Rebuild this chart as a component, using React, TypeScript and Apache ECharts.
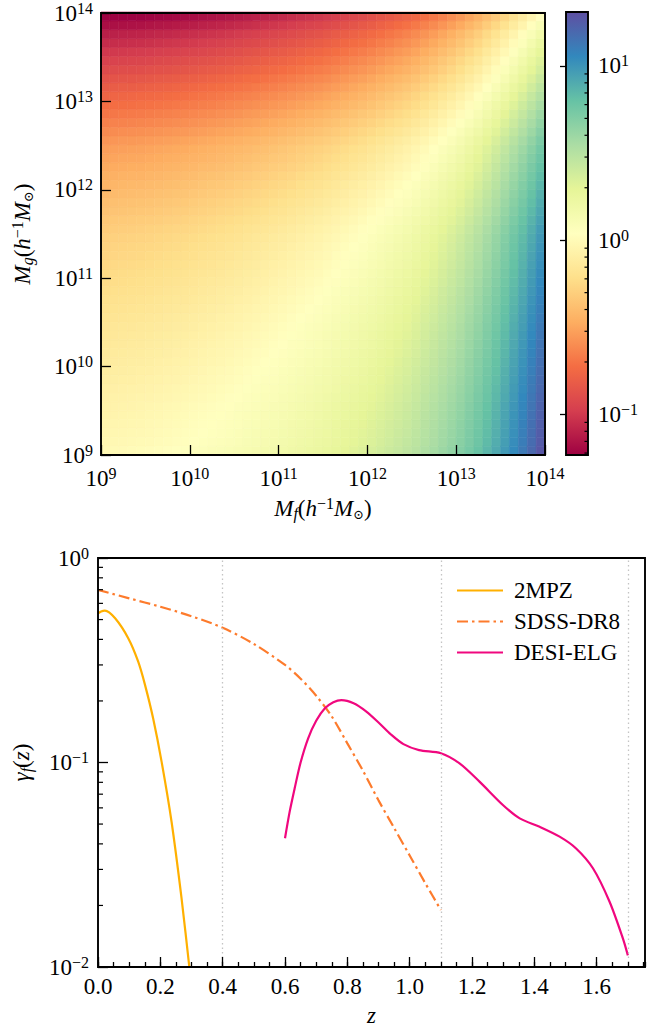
import React, { useEffect, useRef } from "react";
import * as echarts from "echarts";

const FONT = "Liberation Serif";

// ---------------- top panel: heat map ----------------
// log10(M) at the centres of the map's cells (both axes)
const massCellCentres = [
  9.05, 9.15, 9.25, 9.35, 9.45, 9.55, 9.65, 9.75, 9.85, 9.95,
  10.05, 10.15, 10.25, 10.35, 10.45, 10.55, 10.65, 10.75, 10.85, 10.95,
  11.05, 11.15, 11.25, 11.35, 11.45, 11.55, 11.65, 11.75, 11.85, 11.95,
  12.05, 12.15, 12.25, 12.35, 12.45, 12.55, 12.65, 12.75, 12.85, 12.95,
  13.05, 13.15, 13.25, 13.35, 13.45, 13.55, 13.65, 13.75, 13.85, 13.95,
];
// value read along the bottom row (M_g = 1e9) as a function of M_f
const bottomRowValues = [
  0.978, 0.989, 1.001, 1.013, 1.024, 1.04, 1.058, 1.077, 1.096, 1.115,
  1.138, 1.166, 1.193, 1.221, 1.25, 1.284, 1.322, 1.361, 1.402, 1.443,
  1.49, 1.543, 1.599, 1.656, 1.715, 1.787, 1.873, 1.963, 2.057, 2.156,
  2.272, 2.409, 2.554, 2.708, 2.871, 3.081, 3.344, 3.629, 3.985, 4.377,
  4.864, 5.469, 6.148, 7.073, 8.141, 9.481, 11.17, 13.16, 15.69, 18.71,
];
// value read along the left column (M_f = 1e9) as a function of M_g
const leftColumnValues = [
  0.978, 0.942, 0.922, 0.903, 0.884, 0.864, 0.841, 0.82, 0.799, 0.779,
  0.759, 0.74, 0.721, 0.703, 0.685, 0.666, 0.646, 0.626, 0.608, 0.589,
  0.571, 0.553, 0.537, 0.52, 0.504, 0.483, 0.458, 0.434, 0.412, 0.391,
  0.37, 0.349, 0.329, 0.31, 0.293, 0.271, 0.247, 0.225, 0.205, 0.186,
  0.169, 0.152, 0.137, 0.123, 0.111, 0.0991, 0.0881, 0.0783, 0.0665, 0.0565,
];
const cornerValue = 0.978; // value of the bottom-left cell
const massRange = [1e9, 1e14];
const colorbarRange = [0.0585, 20.4];
const colorbarMinorTicks = [
  0.06, 0.07, 0.08, 0.09, 0.2, 0.3, 0.4, 0.5, 0.6, 0.7, 0.8, 0.9,
  2, 3, 4, 5, 6, 7, 8, 9,
];
const spectral = [
  "#9e0142", "#d53e4f", "#f46d43", "#fdae61", "#fee08b", "#ffffbf",
  "#e6f598", "#abdda4", "#66c2a5", "#3288bd", "#5e4fa2",
];

// ---------------- bottom panel: gamma_f(z) ----------------
const zRange = [0, 1.755];
const zGuides = [0.4, 1.1, 1.7];
const gammaRange = [0.01, 1];
const gammaMinorTicks = [
  0.02, 0.03, 0.04, 0.05, 0.06, 0.07, 0.08, 0.09,
  0.2, 0.3, 0.4, 0.5, 0.6, 0.7, 0.8, 0.9,
];
const mpzZ = [0.0, 0.01, 0.022, 0.055, 0.097, 0.129, 0.151, 0.177, 0.204, 0.236, 0.268, 0.293, 0.3];
const mpzGamma = [0.536, 0.548, 0.553, 0.507, 0.405, 0.311, 0.239, 0.164, 0.101, 0.0513, 0.0217, 0.01, 0.0079];
const sdssZ = [0.0, 0.1, 0.2, 0.3, 0.4, 0.5, 0.6, 0.65, 0.7, 0.75, 0.8, 0.85, 0.9, 0.95, 1.0, 1.05, 1.1];
const sdssGamma = [0.698, 0.635, 0.578, 0.519, 0.456, 0.38, 0.3, 0.257, 0.212, 0.168, 0.124, 0.0912, 0.0653, 0.0479, 0.0351, 0.0257, 0.019];
const desiZ = [0.6, 0.615, 0.631, 0.65, 0.674, 0.7, 0.728, 0.755, 0.781, 0.82, 0.86, 0.9, 0.94, 0.98, 1.03, 1.1, 1.16, 1.224, 1.299, 1.353, 1.417, 1.481, 1.534, 1.588, 1.641, 1.684, 1.7];
const desiGamma = [0.0426, 0.0575, 0.0748, 0.1, 0.131, 0.16, 0.184, 0.197, 0.202, 0.195, 0.178, 0.157, 0.137, 0.123, 0.115, 0.111, 0.099, 0.0806, 0.062, 0.0533, 0.0485, 0.0434, 0.038, 0.0304, 0.0209, 0.0138, 0.0114];

const seriesNames = ["2MPZ", "SDSS-DR8", "DESI-ELG"];
const seriesColors = ["#ffb000", "#fd7b2c", "#f0077e"];

// ---------------- helpers ----------------
const tickRich = {
  b: { fontFamily: FONT, fontSize: 23, lineHeight: 26, color: "#000" },
  s: { fontFamily: FONT, fontSize: 16, lineHeight: 16, verticalAlign: "top", color: "#000" },
};
const nameRich = {
  i: { fontFamily: FONT, fontStyle: "italic", fontSize: 23, lineHeight: 26, color: "#000" },
  n: { fontFamily: FONT, fontSize: 23, lineHeight: 26, color: "#000" },
  sub: { fontFamily: FONT, fontStyle: "italic", fontSize: 16, lineHeight: 14, verticalAlign: "bottom", color: "#000" },
  subn: { fontFamily: "DejaVu Serif", fontSize: 13, lineHeight: 14, verticalAlign: "bottom", color: "#000" },
  sup: { fontFamily: FONT, fontSize: 16, lineHeight: 16, verticalAlign: "top", color: "#000" },
};
const pow10Label = (v: number) => {
  const e = Math.log10(v);
  const r = Math.round(e);
  if (Math.abs(e - r) > 1e-6) return "";
  return `{b|10}{s|${r < 0 ? "\u2212" + -r : r}}`;
};
const tickLine = { color: "#000", width: 1.3 };
const frame = { show: true, borderColor: "#000", borderWidth: 1.9, backgroundColor: "transparent", z: 10 };

function minorTickSeries(xi: number, yi: number, xEdge: number, ticks: number[], len: number) {
  return {
    type: "custom",
    xAxisIndex: xi,
    yAxisIndex: yi,
    silent: true,
    clip: false,
    z: 11,
    data: ticks.map((t) => [xEdge, t]),
    renderItem: (_p: any, api: any) => {
      const pt = api.coord([api.value(0), api.value(1)]);
      return {
        type: "line",
        shape: { x1: pt[0], y1: pt[1], x2: pt[0] + len, y2: pt[1] },
        style: { stroke: "#000", lineWidth: 1.2 },
      };
    },
  };
}

function buildOption() {
  const lmin = Math.log10(colorbarRange[0]);
  const lmax = Math.log10(colorbarRange[1]);
  const colourOf = (v: number) => {
    const t = Math.min(1, Math.max(0, (Math.log10(v) - lmin) / (lmax - lmin)));
    return echarts.color.lerp(t, spectral) as string;
  };
  const cells: number[][] = [];
  massCellCentres.forEach((_a, i) => {
    massCellCentres.forEach((_b, j) => {
      cells.push([i, j, (bottomRowValues[i] * leftColumnValues[j]) / cornerValue]);
    });
  });
  const cats = massCellCentres.map(String);
  const gradStops = spectral
    .map((c, k) => ({ offset: 1 - k / (spectral.length - 1), color: c }))
    .reverse();

  const heatRect = { left: 101, top: 12, width: 444, height: 443 };
  const pair = (xs: number[], ys: number[]) => xs.map((x, k) => [x, ys[k]]);

  return {
    animation: false,
    backgroundColor: "#fff",
    textStyle: { fontFamily: FONT },
    grid: [
      { ...heatRect, show: false },
      { ...heatRect, ...frame },
      { left: 566, top: 12, width: 22, height: 443, ...frame },
      { left: 98, top: 558, width: 547, height: 409, ...frame },
    ],
    xAxis: [
      { type: "category", gridIndex: 0, data: cats, show: false },
      {
        type: "log", gridIndex: 1, min: massRange[0], max: massRange[1], position: "bottom", z: 12,
        axisLine: { show: false }, splitLine: { show: false },
        axisTick: { inside: true, length: 10, lineStyle: tickLine },
        axisLabel: { margin: 10, formatter: pow10Label, rich: tickRich },
        name: "{i|M}{sub|f}{n|(}{i|h}{sup|\u22121}{i|M}{subn|\u2299}{n|)}",
        nameLocation: "middle", nameGap: 40, nameTextStyle: { rich: nameRich },
      },
      { type: "value", gridIndex: 2, min: 0, max: 1, show: false },
      {
        type: "value", gridIndex: 3, min: zRange[0], max: zRange[1], interval: 0.2, position: "bottom", z: 12,
        axisLine: { show: false }, splitLine: { show: false },
        axisTick: { inside: true, length: 10, lineStyle: tickLine },
        axisLabel: {
          margin: 8, showMaxLabel: false, fontFamily: FONT, fontSize: 23, lineHeight: 23, color: "#000",
          formatter: (v: number) => v.toFixed(1),
        },
        name: "{i|z}", nameLocation: "middle", nameGap: 35, nameTextStyle: { rich: nameRich },
      },
      {
        type: "value", gridIndex: 3, min: zRange[0], max: zRange[1], interval: 0.05, position: "bottom", z: 12,
        axisLine: { show: false }, splitLine: { show: false }, axisLabel: { show: false },
        axisTick: { inside: true, length: 5, lineStyle: tickLine },
      },
    ],
    yAxis: [
      { type: "category", gridIndex: 0, data: cats, show: false },
      {
        type: "log", gridIndex: 1, min: massRange[0], max: massRange[1], position: "left", z: 12,
        axisLine: { show: false }, splitLine: { show: false },
        axisTick: { inside: true, length: 10, lineStyle: tickLine },
        axisLabel: { margin: 8, formatter: pow10Label, rich: tickRich },
        name: "{i|M}{sub|g}{n|(}{i|h}{sup|\u22121}{i|M}{subn|\u2299}{n|)}",
        nameLocation: "middle", nameRotate: 90, nameGap: 66, nameTextStyle: { rich: nameRich },
      },
      {
        type: "log", gridIndex: 2, min: colorbarRange[0], max: colorbarRange[1], position: "right", z: 12,
        axisLine: { show: false }, splitLine: { show: false },
        axisTick: { inside: true, length: 6, lineStyle: tickLine },
        axisLabel: { margin: 10, formatter: pow10Label, rich: tickRich, showMinLabel: false, showMaxLabel: false },
      },
      {
        type: "log", gridIndex: 3, min: gammaRange[0], max: gammaRange[1], position: "left", z: 12,
        axisLine: { show: false }, splitLine: { show: false },
        axisTick: { inside: true, length: 10, lineStyle: tickLine },
        axisLabel: { margin: 9, formatter: pow10Label, rich: tickRich },
        name: "{i|\u03b3}{sub|f}{n|(}{i|z}{n|)}",
        nameLocation: "middle", nameRotate: 90, nameGap: 64, nameTextStyle: { rich: nameRich },
      },
    ],
    legend: {
      data: seriesNames,
      orient: "vertical",
      left: 451,
      top: 574,
      itemWidth: 46,
      itemHeight: 14,
      itemGap: 8,
      itemStyle: { opacity: 0 },
      textStyle: { fontFamily: FONT, fontSize: 23, lineHeight: 23, color: "#000", padding: [0, 0, 0, 6] },
    },
    series: [
      {
        type: "custom", xAxisIndex: 0, yAxisIndex: 0, data: cells, silent: true, z: 1,
        renderItem: (_p: any, api: any) => {
          const c = api.coord([api.value(0), api.value(1)]);
          const s = api.size([1, 1]);
          const col = colourOf(api.value(2));
          return {
            type: "rect",
            shape: { x: c[0] - s[0] / 2, y: c[1] - s[1] / 2, width: s[0], height: s[1] },
            style: { fill: col, stroke: col, lineWidth: 0.6 },
          };
        },
      },
      {
        type: "custom", xAxisIndex: 2, yAxisIndex: 2, silent: true, clip: false, z: 2,
        data: [[0, colorbarRange[0]]],
        renderItem: (_p: any, api: any) => {
          const a = api.coord([0, colorbarRange[1]]);
          const b = api.coord([1, colorbarRange[0]]);
          return {
            type: "rect",
            shape: { x: a[0], y: a[1], width: b[0] - a[0], height: b[1] - a[1] },
            style: { fill: new echarts.graphic.LinearGradient(0, 0, 0, 1, gradStops) },
          };
        },
      },
      minorTickSeries(2, 2, 1, colorbarMinorTicks, -3.5),
      {
        name: seriesNames[0], type: "line", xAxisIndex: 3, yAxisIndex: 3, data: pair(mpzZ, mpzGamma),
        symbol: "none", smooth: 0.3, color: seriesColors[0], lineStyle: { width: 2.2, color: seriesColors[0] },
        markLine: {
          silent: true, symbol: ["none", "none"], label: { show: false },
          lineStyle: { color: "#c4c4c4", type: [1.5, 3], width: 1.3 },
          data: zGuides.map((z) => ({ xAxis: z })),
        },
      },
      {
        name: seriesNames[1], type: "line", xAxisIndex: 3, yAxisIndex: 3, data: pair(sdssZ, sdssGamma),
        symbol: "none", smooth: 0.3, color: seriesColors[1],
        lineStyle: { width: 2.2, color: seriesColors[1], type: [11, 4, 2.5, 4] },
      },
      {
        name: seriesNames[2], type: "line", xAxisIndex: 3, yAxisIndex: 3, data: pair(desiZ, desiGamma),
        symbol: "none", smooth: 0.3, color: seriesColors[2], lineStyle: { width: 2.2, color: seriesColors[2] },
      },
      minorTickSeries(3, 3, 0, gammaMinorTicks, 5),
    ],
  };
}

export default function App() {
  const ref = useRef<HTMLDivElement>(null);
  useEffect(() => {
    const chart = echarts.init(ref.current!, null, { renderer: "svg" });
    chart.setOption(buildOption() as any);
    return () => chart.dispose();
  }, []);
  return (
    <div
      ref={ref}
      style={{ position: "absolute", left: 0, top: 0, width: 648, height: 1031, background: "#fff" }}
    />
  );
}
